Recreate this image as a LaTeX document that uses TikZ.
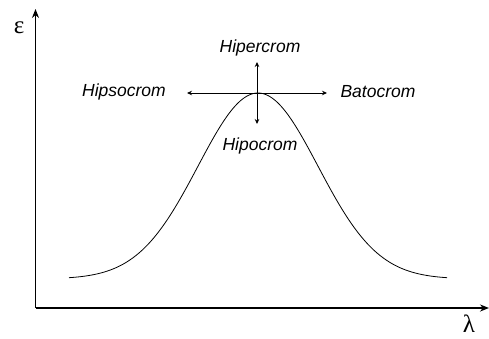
\documentclass[tikz,border=0pt]{standalone}
\usepackage{fontspec}
\setmainfont{Liberation Sans}
\newfontfamily\greekfont{Liberation Serif}
\usetikzlibrary{arrows.meta}

\begin{document}
\begin{tikzpicture}[
    x=1pt, y=-1pt,
    axis/.style={line width=1.5pt, -{Stealth[length=9pt, width=7pt]}},
    bandshift/.style={line width=0.8pt, {Stealth[length=5pt, width=4.5pt]}-{Stealth[length=5pt, width=4.5pt]}},
    lbl/.style={font=\fontsize{17.5}{20}\selectfont\itshape, inner sep=0pt},
    sym/.style={font=\fontsize{25}{27}\selectfont\greekfont, inner sep=0pt}
]
    \useasboundingbox (0,0) rectangle (489,339);

    % axes
    \coordinate (o) at (35.5,308);
    \coordinate (ytip) at (35.5,9);
    \coordinate (xtip) at (489,308);
    \draw[axis] (o) -- (ytip);
    \draw[axis] (o) -- (xtip);
    \node[sym] (eps) at (19,28) {ε};
    \node[sym] (lam) at (469,324) {λ};

    % absorption band
    \draw[line width=0.8pt] plot[domain=69:447, samples=120, smooth]
        (\x, {279-186*exp(-0.5*((\x-258)/60)^2)});

    % shifts
    \coordinate (hl) at (187,93);
    \coordinate (hr) at (327,93);
    \coordinate (vt) at (257,62);
    \coordinate (vb) at (257,124);
    \draw[bandshift] (hl) -- (hr);
    \draw[bandshift] (vt) -- (vb);

    \node[lbl] (hiper) at (260,48) {Hipercrom};
    \node[lbl] (hipo) at (260,146) {Hipocrom};
    \node[lbl] (hipso) at (124,92) {Hipsocrom};
    \node[lbl] (bato) at (378,92) {Batocrom};
\end{tikzpicture}
\end{document}
